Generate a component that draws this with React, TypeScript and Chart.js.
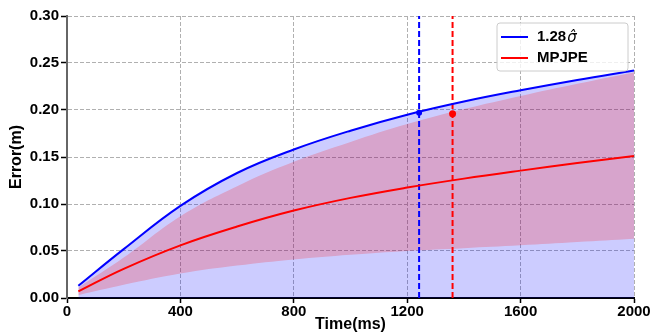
import React, { useEffect, useRef } from "react";
import { Chart, registerables } from "chart.js";

Chart.register(...registerables);

const timeMs = [40, 200, 400, 600, 800, 1000, 1200, 1400, 1600, 1800, 2000];
const sigma128 = [0.013, 0.052, 0.098, 0.133, 0.158, 0.178, 0.195, 0.209, 0.221, 0.232, 0.242];
const mpjpe = [0.007, 0.031, 0.056, 0.076, 0.093, 0.1065, 0.1175, 0.127, 0.1355, 0.1435, 0.151];
const bandUpper = [0.011, 0.043, 0.087, 0.119, 0.145, 0.166, 0.185, 0.201, 0.215, 0.228, 0.24];
const bandLower = [0.003, 0.014, 0.026, 0.0345, 0.041, 0.046, 0.05, 0.053, 0.056, 0.0595, 0.063];

const sigmaMarkTime = 1242;
const mpjpeMarkTime = 1360;
const markValue = 0.197;

const xTicks = [0, 400, 800, 1200, 1600, 2000];
const yTicks = [0, 0.05, 0.1, 0.15, 0.2, 0.25, 0.3];

const legendLabels = ["1.28", "MPJPE"];

const FONT = "'Liberation Sans', Arial, sans-serif";

const toXY = (ys: number[]) => timeMs.map((t, i) => ({ x: t, y: ys[i] }));

const legendPlugin = {
  id: "customLegend",
  afterDraw(chart: any) {
    const ctx = chart.ctx;
    ctx.save();
    const bx = 497, by = 23, bw = 131, bh = 48, r = 3;
    ctx.beginPath();
    ctx.moveTo(bx + r, by);
    ctx.lineTo(bx + bw - r, by);
    ctx.quadraticCurveTo(bx + bw, by, bx + bw, by + r);
    ctx.lineTo(bx + bw, by + bh - r);
    ctx.quadraticCurveTo(bx + bw, by + bh, bx + bw - r, by + bh);
    ctx.lineTo(bx + r, by + bh);
    ctx.quadraticCurveTo(bx, by + bh, bx, by + bh - r);
    ctx.lineTo(bx, by + r);
    ctx.quadraticCurveTo(bx, by, bx + r, by);
    ctx.closePath();
    ctx.fillStyle = "rgba(255,255,255,0.8)";
    ctx.fill();
    ctx.strokeStyle = "#cccccc";
    ctx.lineWidth = 1;
    ctx.stroke();

    const rows = [
      { y: 37, color: "#0000ff" },
      { y: 58, color: "#ff0000" },
    ];
    rows.forEach((row, i) => {
      ctx.beginPath();
      ctx.strokeStyle = row.color;
      ctx.lineWidth = 2;
      ctx.moveTo(501, row.y);
      ctx.lineTo(528, row.y);
      ctx.stroke();
      ctx.fillStyle = "#000";
      ctx.textBaseline = "middle";
      ctx.textAlign = "left";
      ctx.font = `bold 15px ${FONT}`;
      ctx.fillText(legendLabels[i], 537, row.y);
      if (i === 0) {
        const w = ctx.measureText(legendLabels[i]).width;
        ctx.font = `oblique 15px 'DejaVu Sans', sans-serif`;
        ctx.fillText("σ\u0302", 537 + w + 1, row.y + 1);
      }
    });
    ctx.restore();
  },
};

export default function App() {
  const ref = useRef<HTMLCanvasElement | null>(null);
  useEffect(() => {
    if (!ref.current) return;
    const curve = { tension: 0.4 };
    const chart = new Chart(ref.current, {
      type: "line",
      data: {
        datasets: [
          {
            label: "1.28σ̂",
            data: toXY(sigma128),
            borderColor: "#0000ff",
            borderWidth: 2,
            pointRadius: 0,
            fill: false,
            ...curve,
            order: 0,
          },
          {
            label: "MPJPE",
            data: toXY(mpjpe),
            borderColor: "#ff0000",
            borderWidth: 2,
            pointRadius: 0,
            fill: false,
            ...curve,
            order: 0,
          },
          {
            label: "sigmaMark",
            data: [
              { x: sigmaMarkTime, y: 0 },
              { x: sigmaMarkTime, y: 0.3 },
            ],
            borderColor: "#0000ff",
            borderWidth: 2,
            borderDash: [6, 3],
            pointRadius: 0,
            fill: false,
            order: 1,
          },
          {
            label: "mpjpeMark",
            data: [
              { x: mpjpeMarkTime, y: 0 },
              { x: mpjpeMarkTime, y: 0.3 },
            ],
            borderColor: "#ff0000",
            borderWidth: 2,
            borderDash: [6, 3],
            pointRadius: 0,
            fill: false,
            order: 1,
          },
          {
            label: "sigmaDot",
            data: [{ x: sigmaMarkTime, y: markValue }],
            showLine: false,
            pointRadius: 3,
            pointBackgroundColor: "#0000ff",
            pointBorderWidth: 0,
            order: 0,
          },
          {
            label: "mpjpeDot",
            data: [{ x: mpjpeMarkTime, y: markValue - 0.001 }],
            showLine: false,
            pointRadius: 3.5,
            pointBackgroundColor: "#ff0000",
            pointBorderWidth: 0,
            order: 0,
          },
          {
            label: "bandUpper",
            data: toXY(bandUpper),
            borderWidth: 0,
            pointRadius: 0,
            backgroundColor: "rgba(255,0,0,0.2)",
            fill: "+1",
            ...curve,
            order: 2,
          },
          {
            label: "bandLower",
            data: toXY(bandLower),
            borderWidth: 0,
            pointRadius: 0,
            fill: false,
            ...curve,
            order: 2,
          },
          {
            label: "sigmaFill",
            data: toXY(sigma128),
            borderWidth: 0,
            pointRadius: 0,
            backgroundColor: "rgba(0,0,255,0.2)",
            fill: "origin",
            ...curve,
            order: 3,
          },
        ],
      },
      options: {
        animation: false,
        responsive: true,
        maintainAspectRatio: false,
        layout: { padding: { left: 0, top: 16, right: 22, bottom: 0 } },
        plugins: { legend: { display: false }, tooltip: { enabled: false } },
        scales: {
          x: {
            type: "linear",
            min: 0,
            max: 2000,
            afterFit: (s: any) => {
              s.height = 35;
            },
            afterBuildTicks: (s: any) => {
              s.ticks = xTicks.map((v) => ({ value: v }));
            },
            ticks: {
              color: "#000",
              font: { family: FONT, size: 15, weight: "bold" },
              padding: 0,
              maxRotation: 0,
              callback: (v: any) => String(v),
            },
            grid: {
              color: "#b0b0b0",
              lineWidth: 1,
              tickLength: 5,
              tickColor: "#000",
              tickWidth: 1.5,
            },
            border: { display: true, color: "#000", width: 2, dash: [4, 2] },
            title: {
              display: true,
              text: "Time(ms)",
              color: "#000",
              font: { family: FONT, size: 16, weight: "bold", lineHeight: 1 },
              padding: { top: 0, bottom: 0 },
            },
          },
          y: {
            type: "linear",
            min: 0,
            max: 0.3,
            afterFit: (s: any) => {
              s.width = 67;
            },
            afterBuildTicks: (s: any) => {
              s.ticks = yTicks.map((v) => ({ value: v }));
            },
            ticks: {
              color: "#000",
              font: { family: FONT, size: 15, weight: "bold" },
              padding: 2,
              callback: (v: any) => Number(v).toFixed(2),
            },
            grid: {
              color: "#b0b0b0",
              lineWidth: 1,
              tickLength: 6,
              tickColor: "#000",
              tickWidth: 1.5,
            },
            border: { display: true, color: "#666", width: 2, dash: [4, 2] },
            title: {
              display: true,
              text: "Error(m)",
              color: "#000",
              font: { family: FONT, size: 16, weight: "bold", lineHeight: 1 },
              padding: { top: 9, bottom: 0 },
            },
          },
        },
      },
      plugins: [legendPlugin],
    });
    return () => chart.destroy();
  }, []);
  return (
    <div style={{ position: "fixed", left: 0, top: 0, width: 656, height: 333, background: "#fff" }}>
      <canvas ref={ref} />
    </div>
  );
}
